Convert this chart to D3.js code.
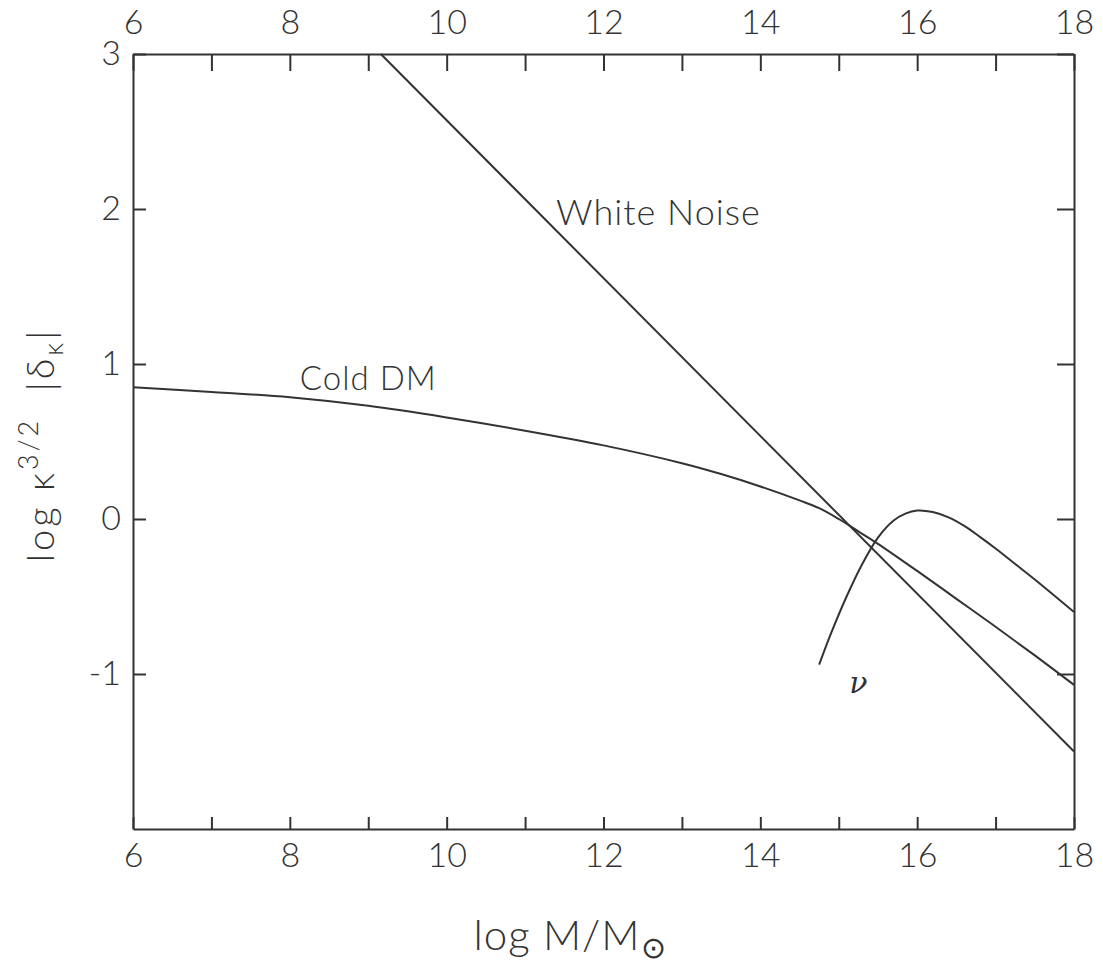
<!DOCTYPE html>
<html>
<head>
<meta charset="utf-8">
<script src="https://cdn.jsdelivr.net/npm/d3@7"></script>
<style>
  body { margin: 0; background: #fff; }
  text { font-family: Lato, "DejaVu Sans", sans-serif; font-weight: 300; fill: #333; }
  .axis path, .axis line { stroke: #333; stroke-width: 2; }
  .axis text { font-size: 34px; }
  .curve { fill: none; stroke: #333; stroke-width: 2; }
</style>
</head>
<body>
<div id="chart"></div>
<script>
// log M/Msun vs log k^{3/2}|delta_k|
var xTicks = [6, 7, 8, 9, 10, 11, 12, 13, 14, 15, 16, 17, 18];
var yTicks = [-1, 0, 1, 2, 3];

var whiteNoise = [[9.16, 3], [18, -1.5]];

var coldDM = [
  [6, 0.85], [7, 0.82], [8, 0.785], [9, 0.73], [10, 0.655], [11, 0.57],
  [12, 0.475], [13, 0.36], [13.5, 0.29], [14, 0.21], [14.5, 0.12], [14.75, 0.07],
  [15, 0.0], [15.25, -0.08], [15.5, -0.16], [16, -0.335], [16.5, -0.515],
  [17, -0.695], [17.5, -0.88], [18, -1.07]
];

var neutrino = [
  [14.75, -0.94], [14.9, -0.74], [15.1, -0.5], [15.3, -0.29], [15.5, -0.12],
  [15.7, -0.01], [15.85, 0.035], [16.0, 0.055], [16.2, 0.045], [16.4, 0.01],
  [16.6, -0.045], [16.8, -0.115], [17, -0.19], [17.25, -0.29], [17.5, -0.39], [18, -0.6]
];

var svg = d3.select("#chart")
  .append("svg")
  .attr("width", 1103)
  .attr("height", 968);

var pArea = [133, 54, 1074, 829];

var x = d3.scaleLinear()
  .domain([6, 18])
  .range([pArea[0], pArea[2]]);
var y = d3.scaleLinear()
  .domain([-2, 3])
  .range([pArea[3], pArea[1]]);

var fmt = function (d) { return d % 2 === 0 ? d : ""; };
var yFmt = function (d) { return d < 0 ? "-" + Math.abs(d) : d; };

svg.append("g")
  .attr("class", "axis")
  .attr("transform", `translate(0,${pArea[1]})`)
  .call(d3.axisTop(x).tickValues(xTicks).tickFormat(fmt).tickSizeInner(-17).tickSizeOuter(0).tickPadding(20));

svg.append("g")
  .attr("class", "axis")
  .attr("transform", `translate(0,${pArea[3]})`)
  .call(d3.axisBottom(x).tickValues(xTicks).tickFormat(fmt).tickSizeInner(-12).tickSizeOuter(0).tickPadding(14));

svg.append("g")
  .attr("class", "axis")
  .attr("transform", `translate(${pArea[0]},0)`)
  .call(d3.axisLeft(y).tickValues(yTicks).tickFormat(yFmt).tickSizeInner(-13).tickSizeOuter(0).tickPadding(12));

svg.append("g")
  .attr("class", "axis")
  .attr("transform", `translate(${pArea[2]},0)`)
  .call(d3.axisRight(y).tickValues(yTicks).tickFormat("").tickSizeInner(-17).tickSizeOuter(0));

svg.selectAll(".axis text").attr("fill", "#333");

var line = d3.line()
  .x(function (d) { return x(d[0]); })
  .y(function (d) { return y(d[1]); });

svg.append("path").attr("class", "curve").attr("d", line(whiteNoise));
svg.append("path").attr("class", "curve").attr("d", line.curve(d3.curveCatmullRom)(coldDM));
svg.append("path").attr("class", "curve").attr("d", line.curve(d3.curveCatmullRom)(neutrino));

// curve labels
svg.append("text")
  .attr("x", x(12.7)).attr("y", y(1.9))
  .attr("text-anchor", "middle")
  .style("font-size", "36px")
  .style("letter-spacing", "1px")
  .text("White Noise");

svg.append("text")
  .attr("x", x(9.0)).attr("y", y(0.83))
  .attr("text-anchor", "middle")
  .style("font-size", "33px")
  .style("letter-spacing", "1px")
  .text("Cold DM");

svg.append("text")
  .attr("x", x(15.25)).attr("y", y(-1.12))
  .attr("text-anchor", "middle")
  .style("font-family", "'DejaVu Serif', serif")
  .style("font-style", "italic")
  .style("font-size", "30px")
  .text("ν");

// axis titles
var xt = svg.append("text")
  .attr("x", 570)
  .attr("y", 950)
  .attr("text-anchor", "middle")
  .style("font-size", "42px")
  .style("letter-spacing", "1px");
xt.append("tspan").text("log M/M");
xt.append("tspan").attr("dy", 8).style("font-size", "30px").text("⊙");

var yt = svg.append("text")
  .attr("transform", `translate(54,445) rotate(-90)`)
  .attr("text-anchor", "middle")
  .attr("xml:space", "preserve")
  .style("font-size", "38px")
  .style("letter-spacing", "3px");
yt.append("tspan").text("log κ");
yt.append("tspan").attr("dy", -16).style("font-size", "27px").text("3/2");
yt.append("tspan").attr("dy", 16).text("  |δ");
yt.append("tspan").attr("dy", 9).style("font-size", "27px").text("κ");
yt.append("tspan").attr("dy", -9).text("|");
</script>
</body>
</html>
